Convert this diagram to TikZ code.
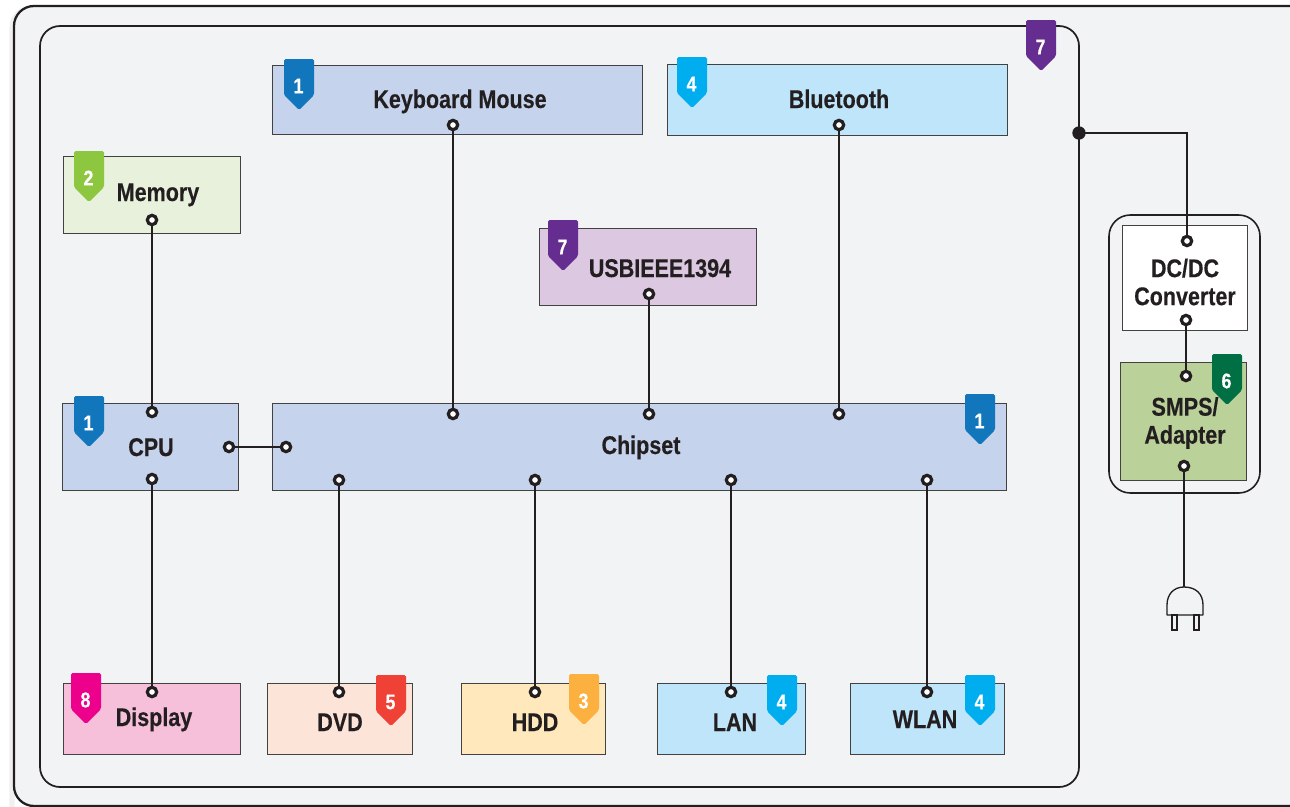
\documentclass[tikz,border=0pt]{standalone}
\usepackage{fontspec}
\setmainfont{Liberation Sans}[FakeStretch=0.84,BoldFeatures={FakeBold=0.3}]
\usetikzlibrary{calc}
\definecolor{ink}{HTML}{231F20}
\definecolor{panel}{HTML}{F2F3F5}
\definecolor{cBlue}{HTML}{C5D3EC}
\definecolor{cSky}{HTML}{BFE5FA}
\definecolor{cLime}{HTML}{E7F1DC}
\definecolor{cViolet}{HTML}{DCC8E1}
\definecolor{cPink}{HTML}{F7C0DA}
\definecolor{cPeach}{HTML}{FDE4D9}
\definecolor{cYellow}{HTML}{FFE8BC}
\definecolor{cSage}{HTML}{BAD299}
\definecolor{bBlue}{HTML}{1276BC}
\definecolor{bSky}{HTML}{00AEEF}
\definecolor{bLime}{HTML}{8DC63F}
\definecolor{bViolet}{HTML}{662D91}
\definecolor{bPink}{HTML}{EC008C}
\definecolor{bRed}{HTML}{EF4136}
\definecolor{bOrange}{HTML}{FBB040}
\definecolor{bGreen}{HTML}{006F44}
\tikzset{
  x=0.75pt,y=-0.75pt,
  frame/.style={draw=ink,line width=1.5pt,fill=panel,rounded corners=15pt},
  blockbox/.style={draw=ink!85,line width=0.7pt,inner sep=0pt,outer sep=0pt},
  blocktext/.style={font=\bfseries\fontsize{19.2}{21}\selectfont,text=ink,align=center,inner sep=0pt},
  baselabel/.style={blocktext,anchor=base},
  port/.style={circle,draw=ink,fill=white,line width=2.4pt,minimum size=7pt,inner sep=0pt,outer sep=0pt},
  wire/.style={draw=ink,line width=1.4pt},
  tagshape/.style={rounded corners=1.2pt,line join=round},
  tagtext/.style={font=\bfseries\fontsize{16}{17}\selectfont,text=white,inner sep=0pt},
}
\newcommand{\blockat}[6]{%
  \pgfmathsetmacro{\cxa}{(#2+#4)/2-0.25}\pgfmathsetmacro{\cya}{(#3+#5)/2-0.25}%
  \pgfmathsetmacro{\wa}{(#4-#2-0.5)*0.75}\pgfmathsetmacro{\ha}{(#5-#3-0.5)*0.75}%
  \node[blockbox,fill=#6,minimum width=\wa pt,minimum height=\ha pt] (#1) at (\cxa,\cya) {};}
\newcommand{\tagat}[5]{%
  \fill[#4,tagshape] (#2,#3) -- ++(30,0) -- ++(0,36) -- ++(-15,15) -- ++(-15,-15) -- cycle;
  \node[tagtext] (#1) at ($(#2,#3)+(14.5,27)$) {#5};}
\begin{document}
\begin{tikzpicture}
\useasboundingbox (0,0) rectangle (1290,807);
\clip (0,0) rectangle (1290,807);
\draw[draw=black!6,line width=4pt,rounded corners=15pt] (12,8) rectangle (1330,830);
\draw[frame,line width=1.7pt] (14,6) rectangle (1330,806);
\draw[frame,line width=1.3pt] (40,26) rectangle (1079,787);
\draw[draw=ink,line width=1.2pt,rounded corners=16pt] (1109,215) rectangle (1260,493);
% blocks
\blockat{kbd}{272}{65}{643}{135}{cBlue}
\blockat{bt}{667}{64}{1008}{136}{cSky}
\blockat{mem}{63}{156}{241}{234}{cLime}
\blockat{usb}{539}{228}{757}{306}{cViolet}
\blockat{cpu}{62}{403}{239}{491}{cBlue}
\blockat{chip}{272}{403}{1007}{491}{cBlue}
\blockat{disp}{63}{683}{241}{755}{cPink}
\blockat{dvd}{267}{683}{413}{755}{cPeach}
\blockat{hdd}{461}{683}{606}{755}{cYellow}
\blockat{lan}{657}{683}{806}{755}{cSky}
\blockat{wlan}{850}{683}{1005}{755}{cSky}
\blockat{dcdc}{1122}{225}{1248}{331}{white}
\blockat{smps}{1120}{362}{1247}{481}{cSage}
% labels
\node[baselabel] (tkbd) at (460,108) {Keyboard Mouse};
\node[baselabel] (tbt) at (839,108) {Bluetooth};
\node[baselabel] (tmem) at (158,201) {Memory};
\node[baselabel] (tusb) at (660,277) {USBIEEE1394};
\node[baselabel] (tcpu) at (151,456) {CPU};
\node[baselabel] (tchip) at (641,454) {Chipset};
\node[baselabel] (tdisp) at (154,726) {Display};
\node[baselabel] (tdvd) at (340,731) {DVD};
\node[baselabel] (thdd) at (535,731) {HDD};
\node[baselabel] (tlan) at (735,731) {LAN};
\node[baselabel] (twlan) at (925,728) {WLAN};
\node[blocktext] (tdc) at (1185,282) {DC/DC\\Converter};
\node[blocktext] (tsm) at (1185,423) {SMPS/\\Adapter};
% ports
\node[port] (pkbd) at (453,125) {};
\node[port] (pbt) at (839,125) {};
\node[port] (pmem) at (152,220) {};
\node[port] (pusb) at (649,294) {};
\node[port] (pcpuT) at (152,412) {};
\node[port] (pcpuR) at (229,447) {};
\node[port] (pcpuB) at (152,479) {};
\node[port] (pchL) at (286,447) {};
\node[port] (pchA) at (453,414) {};
\node[port] (pchB) at (649,414) {};
\node[port] (pchC) at (839,414) {};
\node[port] (pchD) at (339,480) {};
\node[port] (pchE) at (535,480) {};
\node[port] (pchF) at (731,480) {};
\node[port] (pchG) at (927,480) {};
\node[port] (pdisp) at (152,692) {};
\node[port] (pdvd) at (339,692) {};
\node[port] (phdd) at (535,692) {};
\node[port] (plan) at (731,692) {};
\node[port] (pwlan) at (927,692) {};
\node[port] (pdcT) at (1187,241) {};
\node[port] (pdcB) at (1186,320) {};
\node[port] (psmT) at (1186,376) {};
\node[port] (psmB) at (1184,466) {};
\node[circle,fill=ink,minimum size=10pt,inner sep=0pt] (junction) at (1079,133) {};
\coordinate (plugtop) at (1184,587);
% connectors
\draw[wire] (pkbd) -- (pchA);
\draw[wire] (pbt) -- (pchC);
\draw[wire] (pmem) -- (pcpuT);
\draw[wire] (pusb) -- (pchB);
\draw[wire] (pcpuR) -- (pchL);
\draw[wire] (pcpuB) -- (pdisp);
\draw[wire] (pchD) -- (pdvd);
\draw[wire] (pchE) -- (phdd);
\draw[wire] (pchF) -- (plan);
\draw[wire] (pchG) -- (pwlan);
\draw[wire] (junction.center) -| (pdcT);
\draw[wire] (pdcB) -- (psmT);
\draw[wire] (psmB) -- (plugtop);
% plug
\draw[draw=ink,line width=1pt,fill=panel,line join=round] (1167,615) -- (1167,605) .. controls (1167,594) and (1174,587) .. (plugtop) .. controls (1196,587) and (1203,594) .. (1203,605) -- (1203,615) -- cycle;
\draw[draw=ink,line width=0.9pt] (1172,615) rectangle (1177,630);
\draw[draw=ink,line width=0.9pt] (1194,615) rectangle (1199,630);
% tags
\tagat{g1}{284}{59}{bBlue}{1}
\tagat{g2}{677}{57}{bSky}{4}
\tagat{g3}{74}{151}{bLime}{2}
\tagat{g4}{548}{220}{bViolet}{7}
\tagat{g5}{1026}{20}{bViolet}{7}
\tagat{g6}{74}{396}{bBlue}{1}
\tagat{g7}{965}{394}{bBlue}{1}
\tagat{g8}{1212}{354}{bGreen}{6}
\tagat{g9}{71}{673}{bPink}{8}
\tagat{g10}{376}{675}{bRed}{5}
\tagat{g11}{569}{674}{bOrange}{3}
\tagat{g12}{767}{675}{bSky}{4}
\tagat{g13}{965}{675}{bSky}{4}
\end{tikzpicture}
\end{document}
